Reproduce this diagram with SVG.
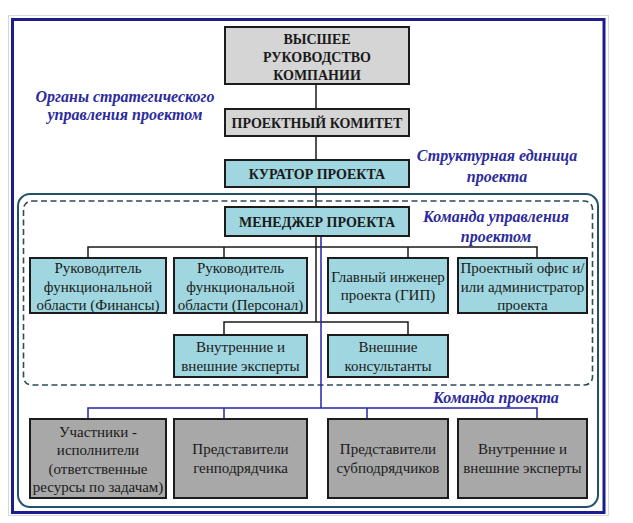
<svg xmlns="http://www.w3.org/2000/svg" width="633" height="523" viewBox="0 0 633 523">
<style>
  .box { stroke: #1c1c1c; stroke-width: 2; }
  .gray { fill: #d5d5d5; }
  .blue { fill: #9fd6df; }
  .dark { fill: #a8a8a8; }
  text { font-family: 'Liberation Serif', 'DejaVu Serif', serif; }
  .t { font-size: 15px; fill: #1a1a1a; text-anchor: middle; }
  .tb { font-size: 14px; font-weight: bold; fill: #1a1a1a; text-anchor: middle; }
  .lab { font-size: 16px; font-weight: bold; font-style: italic; fill: #2b2b9c; text-anchor: middle; }
  .ln { stroke: #1a1a1a; stroke-width: 1.5; fill: none; }
  .lnb { stroke: #2424a8; stroke-width: 1.5; fill: none; }
</style>
<rect x="0" y="0" width="633" height="523" fill="#ffffff"/>
<rect x="8.5" y="15.5" width="600" height="500" fill="none" stroke="#d4d8e4" stroke-width="1"/>
<rect x="12.5" y="19.5" width="591.5" height="493" fill="none" stroke="#1c1c8c" stroke-width="3"/>

<g id="frames">
  <rect x="18" y="194" width="580" height="313" rx="12" fill="none" stroke="#24506a" stroke-width="2"/>
  <rect x="23.5" y="201" width="569" height="184" rx="8" fill="none" stroke="#2e4a5c" stroke-width="1.6" stroke-dasharray="6 3.5"/>
</g>

<g id="connectors">
  <line class="ln" x1="316" y1="84" x2="316" y2="109"/>
  <line class="ln" x1="316" y1="136" x2="316" y2="160"/>
  <line class="ln" x1="316" y1="187" x2="316" y2="207"/>
  <line class="ln" x1="316" y1="236" x2="316" y2="322"/>
  <polyline class="ln" points="88,258 88,247 537,247 537,258"/>
  <line class="ln" x1="224" y1="247" x2="224" y2="258"/>
  <line class="ln" x1="408" y1="247" x2="408" y2="258"/>
  <polyline class="ln" points="224,335 224,322 408,322 408,335"/>
  <line class="lnb" x1="321" y1="236" x2="321" y2="408"/>
  <polyline class="lnb" points="88,419 88,408 537,408 537,419"/>
  <line class="lnb" x1="224" y1="408" x2="224" y2="419"/>
  <line class="lnb" x1="367" y1="408" x2="367" y2="419"/>
</g>

<g id="top">
  <rect class="box gray" x="225" y="27" width="184" height="57"/>
  <text class="tb" x="317" y="44">ВЫСШЕЕ</text>
  <text class="tb" x="317" y="62">РУКОВОДСТВО</text>
  <text class="tb" x="317" y="80">КОМПАНИИ</text>
</g>
<g id="committee">
  <rect class="box gray" x="225" y="109" width="184" height="27"/>
  <text class="tb" x="317" y="127.5">ПРОЕКТНЫЙ КОМИТЕТ</text>
</g>
<g id="curator">
  <rect class="box blue" x="225" y="160" width="184" height="27"/>
  <text class="tb" x="317" y="178.5">КУРАТОР ПРОЕКТА</text>
</g>
<g id="manager">
  <rect class="box blue" x="225" y="207" width="184" height="29"/>
  <text class="tb" x="317" y="226.5">МЕНЕДЖЕР ПРОЕКТА</text>
</g>

<g id="fin">
  <rect class="box blue" x="30" y="258" width="136" height="55"/>
  <text class="t" x="98" y="273">Руководитель</text>
  <text class="t" x="98" y="291.5">функциональной</text>
  <text class="t" x="98" y="310">области (Финансы)</text>
</g>
<g id="hr">
  <rect class="box blue" x="174" y="258" width="133" height="55"/>
  <text class="t" x="240.5" y="273">Руководитель</text>
  <text class="t" x="240.5" y="291.5">функциональной</text>
  <text class="t" x="240.5" y="310">области (Персонал)</text>
</g>
<g id="gip">
  <rect class="box blue" x="328" y="258" width="120" height="55"/>
  <text class="t" x="388" y="281.5">Главный инженер</text>
  <text class="t" x="388" y="300">проекта (ГИП)</text>
</g>
<g id="office">
  <rect class="box blue" x="458" y="258" width="129" height="55"/>
  <text class="t" x="522.5" y="273">Проектный офис и/</text>
  <text class="t" x="522.5" y="291.5">или администратор</text>
  <text class="t" x="522.5" y="310">проекта</text>
</g>

<g id="experts1">
  <rect class="box blue" x="174" y="335" width="133" height="42"/>
  <text class="t" x="240.5" y="352">Внутренние и</text>
  <text class="t" x="240.5" y="370.5">внешние эксперты</text>
</g>
<g id="consult">
  <rect class="box blue" x="328" y="335" width="120" height="42"/>
  <text class="t" x="388" y="352">Внешние</text>
  <text class="t" x="388" y="370.5">консультанты</text>
</g>

<g id="members">
  <rect class="box dark" x="30" y="419" width="136" height="79"/>
  <text class="t" x="98" y="437">Участники -</text>
  <text class="t" x="98" y="455">исполнители</text>
  <text class="t" x="98" y="473.5">(ответственные</text>
  <text class="t" x="98" y="492">ресурсы по задачам)</text>
</g>
<g id="gen">
  <rect class="box dark" x="174" y="419" width="133" height="79"/>
  <text class="t" x="240.5" y="454">Представители</text>
  <text class="t" x="240.5" y="473">генподрядчика</text>
</g>
<g id="sub">
  <rect class="box dark" x="328" y="419" width="120" height="79"/>
  <text class="t" x="388" y="454">Представители</text>
  <text class="t" x="388" y="473">субподрядчиков</text>
</g>
<g id="experts2">
  <rect class="box dark" x="458" y="419" width="129" height="79"/>
  <text class="t" x="522.5" y="454">Внутренние и</text>
  <text class="t" x="522.5" y="473">внешние эксперты</text>
</g>

<g id="labels">
  <text class="lab" x="125" y="102">Органы стратегического</text>
  <text class="lab" x="125" y="120">управления проектом</text>
  <text class="lab" x="497" y="161">Структурная единица</text>
  <text class="lab" x="497" y="182">проекта</text>
  <text class="lab" x="496" y="222">Команда управления</text>
  <text class="lab" x="496" y="242">проектом</text>
  <text class="lab" x="496" y="403">Команда проекта</text>
</g>
</svg>
